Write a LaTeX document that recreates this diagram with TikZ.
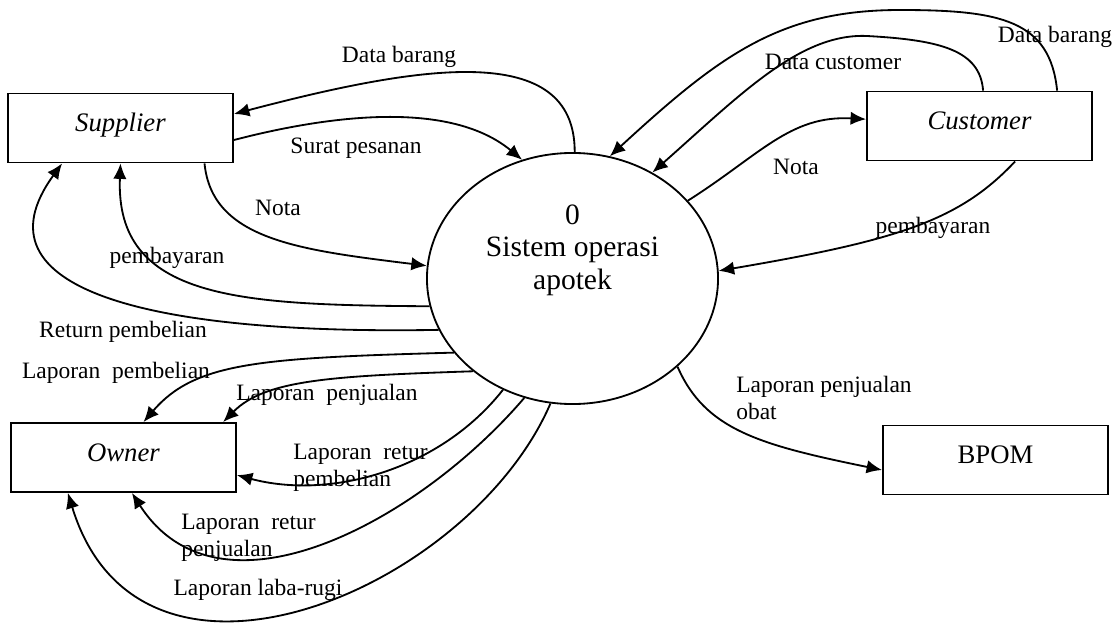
\documentclass[tikz,border=0pt]{standalone}
\usepackage{fontspec}
\setmainfont{Liberation Serif}
\usepackage{tikz}
\usetikzlibrary{arrows.meta,
                calc,
                positioning,
                shapes.geometric}

\begin{document}
\begin{tikzpicture}[x=0.025cm,y=-0.025cm,
  entity/.style={draw,line width=1.3pt,minimum width=5.625cm,minimum height=1.725cm,
                 inner sep=0pt,text height=.48cm,text depth=.3cm,font=\fontsize{19}{22}\selectfont},
  proc/.style={draw,ellipse,line width=1.3pt,minimum width=7.275cm,minimum height=6.275cm,inner sep=0pt},
  lbl/.style={inner sep=0pt,font=\fontsize{16.7}{19.2}\selectfont},
  flow/.style={line width=1.3pt,-{Latex[length=11pt,width=9.5pt]}}]
\useasboundingbox (0,0) rectangle (1120,630);

\foreach \n/\x/\y/\s in {sup/120.5/128/\textit{Supplier},cus/979.5/126/\textit{Customer},
                         own/123.5/457.5/\textit{Owner},bpom/995.5/460/BPOM}
  \node[entity] (\n) at (\x,\y) {\s};

\node[proc] (sys) at (572.5,278.5) {};
\node[align=center,font=\fontsize{21}{23}\selectfont] (systxt) at (572.5,250) {0\\Sistem operasi\\apotek};

\draw[flow] (sys.89) .. controls (575,40) and (420,65) .. ([yshift=.35cm]sup.east);
\draw[flow] ([yshift=-.3cm]sup.east) .. controls (330,115) and (450,100) .. (sys.113);
\draw[flow] ([xshift=2.1cm]sup.south) .. controls (212,240) and (300,250) .. (sys.175.5);
\draw[flow] (sys.191) .. controls (240,305) and (115,300) .. (sup.south);
\draw[flow] (sys.201) .. controls (150,335) and (-30,290) .. ([xshift=-1.46cm]sup.south);

\draw[flow] (sys.212) .. controls (260,358) and (195,362) .. ([xshift=.5cm]own.north);
\draw[flow] (sys.223.5) .. controls (330,376) and (265,380) .. ([xshift=2.49cm]own.north);
\draw[flow] (sys.238) .. controls (440,470) and (330,500) .. ([yshift=-.44cm]own.east);
\draw[flow] (sys.248) .. controls (420,520) and (220,630) .. ([xshift=.21cm]own.south);
\draw[flow] (sys.260.5) .. controls (470,590) and (140,730) .. ([xshift=-1.39cm]own.south);

\draw[flow] (sys.34) .. controls (760,155) and (790,115) .. ([yshift=.17cm]cus.west);
\draw[flow] ([xshift=.89cm]cus.south) .. controls (960,220) and (900,240) .. (sys.3);
\draw[flow] ([xshift=.09cm]cus.north) .. controls (980,50) and (940,40) .. (867,36)
            .. controls (800,33) and (740,95) .. (sys.53);
\draw[flow] ([xshift=1.94cm]cus.north) .. controls (1050,20) and (1000,10) .. (900,10)
            .. controls (780,10) and (720,55) .. (sys.73.5);

\draw[flow] (sys.320) .. controls (705,430) and (760,445) .. ([yshift=-.25cm]bpom.west);

\foreach \n/\x/\y/\s in {tBarangS/399/57/Data barang,tPesanan/356/148/Surat pesanan,
                         tNotaS/278/208/Nota,tBayarS/167/258/pembayaran,
                         tReturn/123/332/Return pembelian,tLapBeli/116/373/Laporan~~pembelian,
                         tLapJual/327/395/Laporan~~penjualan,tLabaRugi/258/590/Laporan laba-rugi,
                         tNotaC/796/167/Nota,tBayarC/933/228/pembayaran,
                         tCustomer/833/62/Data customer,tBarangC/1055/37/Data barang}
  \node[lbl] (\n) at (\x,\y) {\s};

\node[lbl,anchor=west,align=left] (tReturBeli) at (293,468) {Laporan~~retur\\pembelian};
\node[lbl,anchor=west,align=left] (tReturJual) at (181,537.5) {Laporan~~retur\\penjualan};
\node[lbl,anchor=west,align=left] (tLapObat) at (736,397.5) {Laporan penjualan\\obat};
\end{tikzpicture}
\end{document}
